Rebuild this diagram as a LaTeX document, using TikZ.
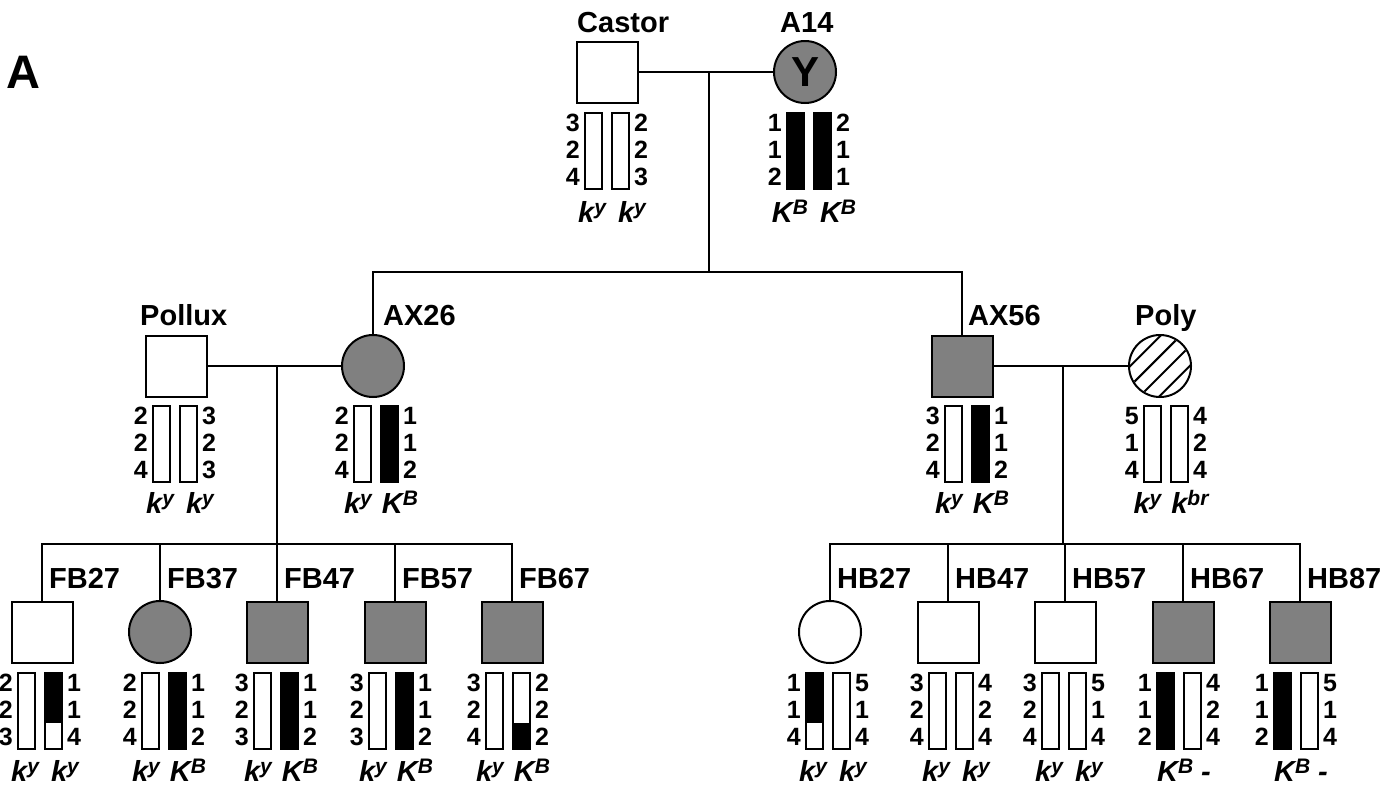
\documentclass[tikz,border=0pt]{standalone}
\usepackage{fontspec}
\setmainfont{Liberation Sans}
\definecolor{affgray}{RGB}{128,128,128}
\tikzset{
  conn/.style={line width=2pt},
  male/.style={draw, line width=2pt, rectangle, minimum size=61pt, inner sep=0pt},
  female/.style={draw, line width=2pt, circle, minimum size=62pt, inner sep=0pt},
  aff/.style={fill=affgray},
  lbl/.style={inner sep=0pt, anchor=base west, font=\fontsize{29}{29}\selectfont\bfseries},
  num/.style={inner sep=0pt, font=\fontsize{25}{25}\selectfont\bfseries},
  chrbar/.style={draw, line width=1.5pt},
  allele/.style={inner sep=0pt, anchor=base, font=\fontsize{29}{29}\selectfont\bfseries\itshape},
}
\newcommand\chrW[2]{\draw[chrbar,fill=white] (#1,#2) rectangle ++(17,76);}
\newcommand\chrB[2]{\draw[chrbar,fill=black] (#1,#2) rectangle ++(17,76);}
\newcommand\chrT[2]{\fill[black] (#1,#2) rectangle ++(17,50);\draw[chrbar] (#1,#2) rectangle ++(17,76);}
\newcommand\chrM[2]{\fill[black] (#1,#2+50) rectangle ++(17,26);\draw[chrbar] (#1,#2) rectangle ++(17,76);}
\newcommand\chrpair[6]{%
  \csname chr#3\endcsname{#1}{#2}%
  \csname chr#4\endcsname{#1+27}{#2}%
  \foreach \n [count=\i] in {#5} \node[num,anchor=east] (nl-#1-\i) at (#1-5,#2-17+27*\i) {\n};
  \foreach \n [count=\i] in {#6} \node[num,anchor=west] (nr-#1-\i) at (#1+27+17+5,#2-17+27*\i) {\n};
}
\newcommand\al[2]{#1\raisebox{8pt}{\fontsize{21}{21}\selectfont #2}}
\newcommand\alleles[3]{\node[allele] (al-#1) at (#1+27,#2) {#3};}
\begin{document}
\begin{tikzpicture}[x=1pt,y=-1pt]
\useasboundingbox (0,0) rectangle (1397,793);
\node[inner sep=0pt, anchor=base west, font=\fontsize{47}{47}\selectfont\bfseries] (panel) at (6,88) {A};

% generation I
\node[male] (castor) at (607,72) {};
\node[female,aff] (a14) at (805,72) {\fontsize{42}{42}\selectfont\bfseries Y};
\node[lbl] (castorlbl) at (577,32) {Castor};
\node[lbl] (a14lbl) at (780,32) {A14};

% generation II
\node[male] (pollux) at (176,366) {};
\node[female,aff] (ax26) at (373,366) {};
\node[male,aff] (ax56) at (962,366) {};
\node[female] (poly) at (1160,366) {};
\begin{scope}
  \clip (poly.center) circle (30pt);
  \foreach \d in {-21,-7,7,21}
    \draw[line width=2pt] (1160+\d*0.7071-45,366+\d*0.7071+45) -- ++(90,-90);
\end{scope}
\node[lbl] (polluxlbl) at (140,325) {Pollux};
\node[lbl] (ax26lbl) at (383,325) {AX26};
\node[lbl] (ax56lbl) at (968,325) {AX56};
\node[lbl] (polylbl) at (1135,325) {Poly};

% generation III
\node[male] (fb27) at (42,632) {};
\node[female,aff] (fb37) at (160,632) {};
\node[male,aff] (fb47) at (277,632) {};
\node[male,aff] (fb57) at (395,632) {};
\node[male,aff] (fb67) at (512,632) {};
\node[female] (hb27) at (830,632) {};
\node[male] (hb47) at (948,632) {};
\node[male] (hb57) at (1065,632) {};
\node[male,aff] (hb67) at (1183,632) {};
\node[male,aff] (hb87) at (1300,632) {};
\node[lbl] (fb27lbl) at (49,588) {FB27};
\node[lbl] (fb37lbl) at (167,588) {FB37};
\node[lbl] (fb47lbl) at (284,588) {FB47};
\node[lbl] (fb57lbl) at (402,588) {FB57};
\node[lbl] (fb67lbl) at (519,588) {FB67};
\node[lbl] (hb27lbl) at (837,588) {HB27};
\node[lbl] (hb47lbl) at (955,588) {HB47};
\node[lbl] (hb57lbl) at (1072,588) {HB57};
\node[lbl] (hb67lbl) at (1190,588) {HB67};
\node[lbl] (hb87lbl) at (1307,588) {HB87};

% connectors
\coordinate (m1) at (709,72);
\coordinate (s1) at (709,272);
\draw[conn] (castor) -- (a14);
\draw[conn] (m1) -- (s1);
\draw[conn] (ax26.north) -- (ax26.north |- s1) -| (ax56.north);

\coordinate (m2) at (277,366);
\coordinate (s2) at (277,544);
\draw[conn] (pollux) -- (ax26);
\draw[conn] (m2) -- (s2);
\draw[conn] (fb27.north) -- (fb27.north |- s2) -- (fb67.north |- s2) -- (fb67.north);
\foreach \c in {fb37,fb47,fb57} \draw[conn] (\c.north) -- (\c.north |- s2);

\coordinate (m3) at (1063,366);
\coordinate (s3) at (1063,544);
\draw[conn] (ax56) -- (poly);
\draw[conn] (m3) -- (s3);
\draw[conn] (hb27.north) -- (hb27.north |- s3) -- (hb87.north |- s3) -- (hb87.north);
\foreach \c in {hb47,hb57,hb67} \draw[conn] (\c.north) -- (\c.north |- s3);

% chromosomes
\chrpair{585}{113}{W}{W}{3,2,4}{2,2,3}
\alleles{585}{222}{\al{k}{y}\hspace{12pt}\al{k}{y}}
\chrpair{787}{113}{B}{B}{1,1,2}{2,1,1}
\alleles{787}{222}{\al{K}{B}\hspace{12pt}\al{K}{B}}

\chrpair{153}{406}{W}{W}{2,2,4}{3,2,3}
\alleles{153}{513}{\al{k}{y}\hspace{12pt}\al{k}{y}}
\chrpair{354}{406}{W}{B}{2,2,4}{1,1,2}
\alleles{354}{513}{\al{k}{y}\hspace{10pt}\al{K}{B}}
\chrpair{945}{406}{W}{B}{3,2,4}{1,1,2}
\alleles{945}{513}{\al{k}{y}\hspace{10pt}\al{K}{B}}
\chrpair{1144}{406}{W}{W}{5,1,4}{4,2,4}
\alleles{1144}{513}{\al{k}{y}\hspace{10pt}\al{k}{br}}

\chrpair{18}{673}{W}{T}{2,2,3}{1,1,4}
\alleles{18}{781}{\al{k}{y}\hspace{12pt}\al{k}{y}}
\chrpair{142}{673}{W}{B}{2,2,4}{1,1,2}
\alleles{142}{781}{\al{k}{y}\hspace{10pt}\al{K}{B}}
\chrpair{254}{673}{W}{B}{3,2,3}{1,1,2}
\alleles{254}{781}{\al{k}{y}\hspace{10pt}\al{K}{B}}
\chrpair{369}{673}{W}{B}{3,2,3}{1,1,2}
\alleles{369}{781}{\al{k}{y}\hspace{10pt}\al{K}{B}}
\chrpair{486}{673}{W}{M}{3,2,4}{2,2,2}
\alleles{486}{781}{\al{k}{y}\hspace{10pt}\al{K}{B}}

\chrpair{806}{673}{T}{W}{1,1,4}{5,1,4}
\alleles{806}{781}{\al{k}{y}\hspace{12pt}\al{k}{y}}
\chrpair{929}{673}{W}{W}{3,2,4}{4,2,4}
\alleles{929}{781}{\al{k}{y}\hspace{12pt}\al{k}{y}}
\chrpair{1042}{673}{W}{W}{3,2,4}{5,1,4}
\alleles{1042}{781}{\al{k}{y}\hspace{12pt}\al{k}{y}}
\chrpair{1157}{673}{B}{W}{1,1,2}{4,2,4}
\alleles{1157}{781}{\al{K}{B}\hspace{8pt}-}
\chrpair{1274}{673}{B}{W}{1,1,2}{5,1,4}
\alleles{1274}{781}{\al{K}{B}\hspace{8pt}-}
\end{tikzpicture}
\end{document}
